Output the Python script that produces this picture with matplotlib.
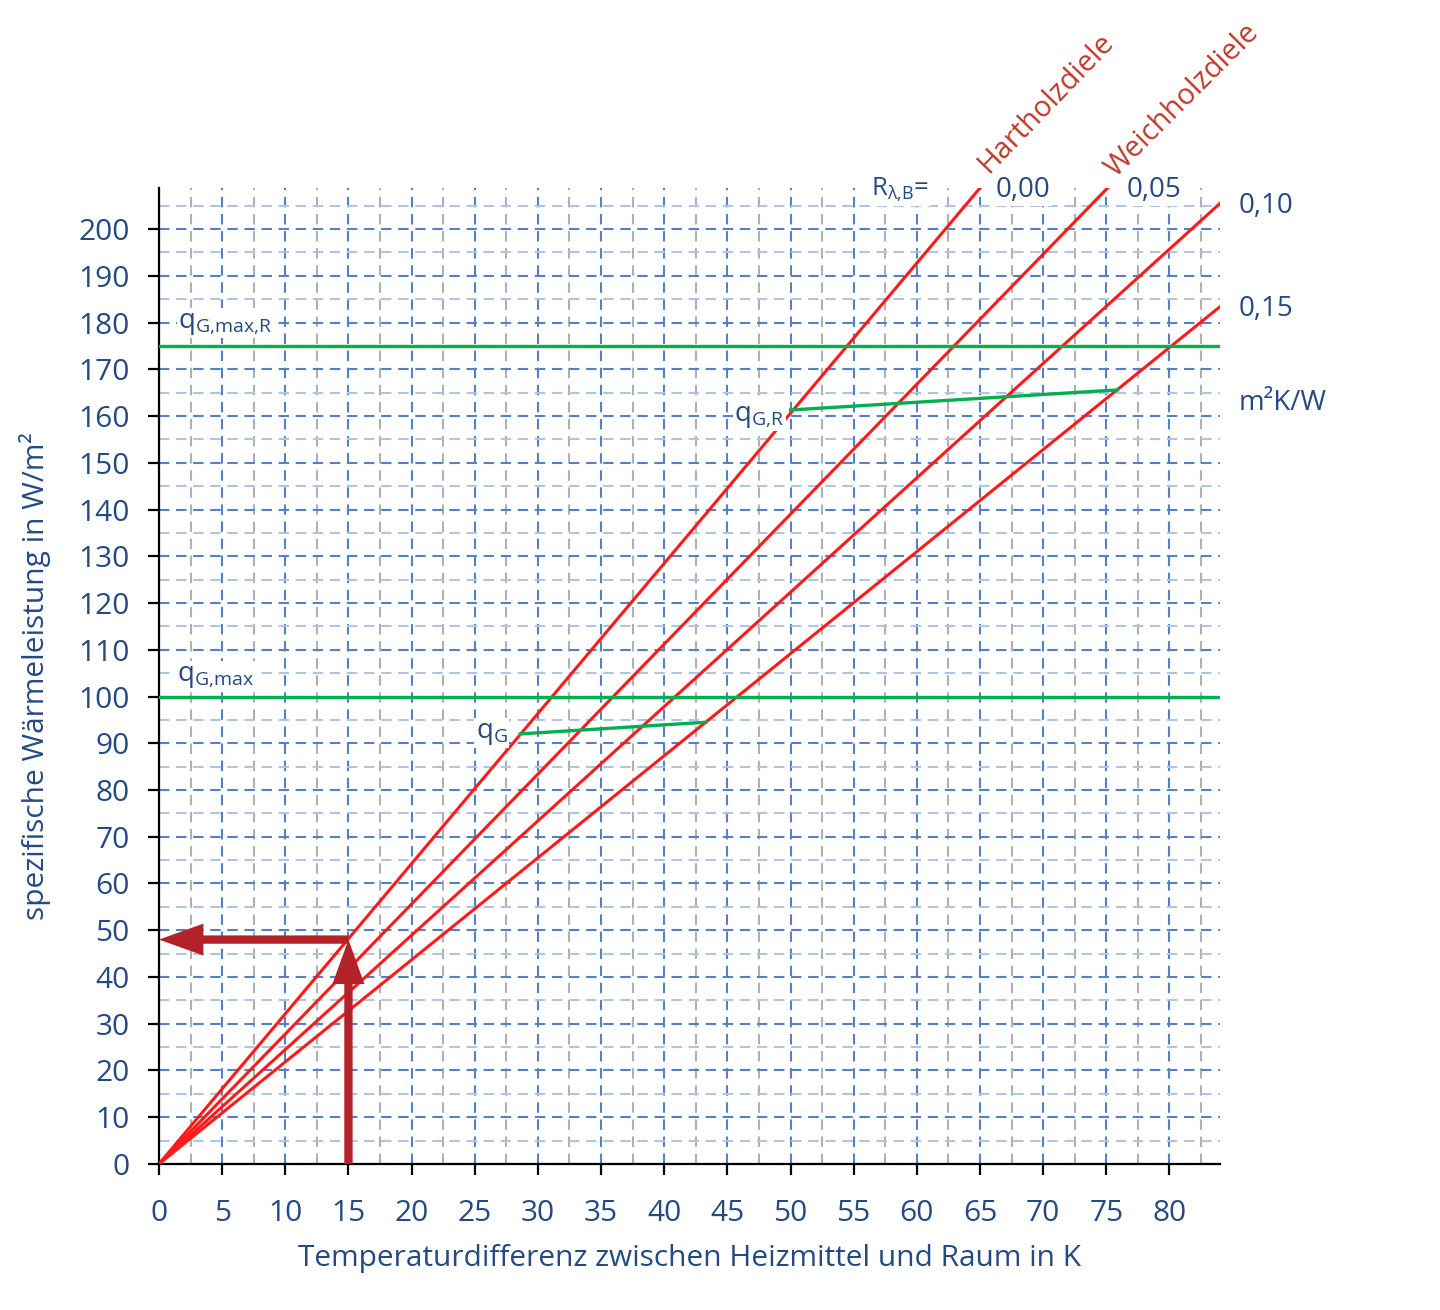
import matplotlib
matplotlib.use('Agg')
import matplotlib.pyplot as plt
from matplotlib.ticker import MultipleLocator

plt.rcParams['font.family'] = ['Open Sans', 'DejaVu Sans']
plt.rcParams['mathtext.fontset'] = 'custom'
plt.rcParams['mathtext.rm'] = 'Open Sans'
plt.rcParams['mathtext.it'] = 'Open Sans'

# Kennlinien (Ursprung bis Rand des Diagramms)
r_labels = ['0,00', '0,05', '0,10', '0,15']
x_end = [65.0, 75.1, 84.0, 84.0]
y_end = [208.8, 208.8, 205.5, 183.4]

# Grenzwerte
q_max = 100
q_max_r = 175

# Grenzkurven q_G und q_G,R
qg_x = [28.6, 43.3]
qg_y = [92.0, 94.5]
qgr_x = [50.0, 75.9]
qgr_y = [161.3, 165.6]

# Ablesebeispiel
ex_dt = 15
ex_q = 48

blue_txt = '#254a82'
red_line = '#ff1a1a'
red_txt = '#c0392b'
green = '#00b050'
arrow_c = '#b22228'

fig = plt.figure(figsize=(14.4, 13.1), dpi=100)
ax = fig.add_axes([0.1104, 0.1115, 0.7368, 0.745])
ax.set_xlim(0, 84)
ax.set_ylim(0, 208.8)

ax.xaxis.set_major_locator(MultipleLocator(5))
ax.xaxis.set_minor_locator(MultipleLocator(2.5))
ax.yaxis.set_major_locator(MultipleLocator(10))
ax.yaxis.set_minor_locator(MultipleLocator(5))
ax.set_xticks(range(0, 81, 5))

dash = (0, (5, 3.2))
ax.grid(which='major', axis='both', color='#5580c2', linestyle=dash, linewidth=1.5)
ax.grid(which='minor', axis='x', color='#b0b0b0', linestyle=dash, linewidth=1.5)
ax.grid(which='minor', axis='y', color='#afc5e6', linestyle=dash, linewidth=1.5)
ax.set_axisbelow(True)

for s in ['top', 'right']:
    ax.spines[s].set_visible(False)
for s in ['left', 'bottom']:
    ax.spines[s].set_linewidth(1.6)
    ax.spines[s].set_color('black')

ax.tick_params(which='major', length=8, width=1.6, color='black',
               labelsize=21.5, labelcolor=blue_txt)
ax.tick_params(axis='y', pad=13)
ax.tick_params(axis='x', pad=17)
ax.tick_params(which='minor', length=0)

for xe, ye in zip(x_end, y_end):
    ax.plot([0, xe], [0, ye], color=red_line, lw=2.2, zorder=3)

ax.axhline(q_max, color=green, lw=2.4, zorder=3)
ax.axhline(q_max_r, color=green, lw=2.4, zorder=3)
ax.plot(qg_x, qg_y, color=green, lw=2.4, zorder=4)
ax.plot(qgr_x, qgr_y, color=green, lw=2.4, zorder=4)

# Pfeile
ap = dict(arrowstyle='simple,head_length=3.2,head_width=2.3,tail_width=0.6',
          mutation_scale=10, color=arrow_c, lw=0, shrinkA=0, shrinkB=0)
ax.annotate('', xy=(ex_dt, ex_q), xytext=(ex_dt, 0), arrowprops=ap, zorder=5)
ax.annotate('', xy=(0, ex_q), xytext=(ex_dt, ex_q), arrowprops=ap, zorder=5)

# Beschriftungen
bb = dict(facecolor='white', edgecolor='none', pad=1)
ax.text(1.5, 179.9, r'$\mathrm{q}_{\mathrm{G{,}max{,}R}}$', fontsize=20,
        color=blue_txt, va='center', ha='left', bbox=bb)
ax.text(1.4, 104.4, r'$\mathrm{q}_{\mathrm{G{,}max}}$', fontsize=20,
        color=blue_txt, va='center', ha='left', bbox=bb)
ax.text(27.6, 92.2, r'$\mathrm{q}_{\mathrm{G}}$', fontsize=20,
        color=blue_txt, va='center', ha='right', bbox=bb)
ax.text(49.5, 160.0, r'$\mathrm{q}_{\mathrm{G{,}R}}$', fontsize=20,
        color=blue_txt, va='center', ha='right', bbox=bb)

ax.text(58.7, 208.3, r'$\mathrm{R}_{\mathrm{λ{,}B}}$=', fontsize=18.5,
        color=blue_txt, va='center', ha='center', bbox=bb)
ax.text(68.4, 208.3, r_labels[0], fontsize=20, color=blue_txt,
        va='center', ha='center', bbox=bb)
ax.text(78.8, 208.3, r_labels[1], fontsize=20, color=blue_txt,
        va='center', ha='center', bbox=bb)
ax.text(85.5, 204.9, r_labels[2], fontsize=20, color=blue_txt,
        va='center', ha='left')
ax.text(85.5, 182.9, r_labels[3], fontsize=20, color=blue_txt,
        va='center', ha='left')
ax.text(85.5, 162.8, 'm²K/W', fontsize=20, color=blue_txt,
        va='center', ha='left')

ax.text(70.2, 227.0, 'Hartholzdiele', fontsize=21, color=red_txt,
        rotation=46, rotation_mode='anchor', ha='center', va='center')
ax.text(81.0, 227.6, 'Weichholzdiele', fontsize=21, color=red_txt,
        rotation=45, rotation_mode='anchor', ha='center', va='center')

ax.set_xlabel('Temperaturdifferenz zwischen Heizmittel und Raum in K',
              fontsize=21.5, color=blue_txt, labelpad=12)
ax.set_ylabel('spezifische Wärmeleistung in W/m²', fontsize=21.5,
              color=blue_txt, labelpad=20)

fig.savefig('out.png', dpi=100)
